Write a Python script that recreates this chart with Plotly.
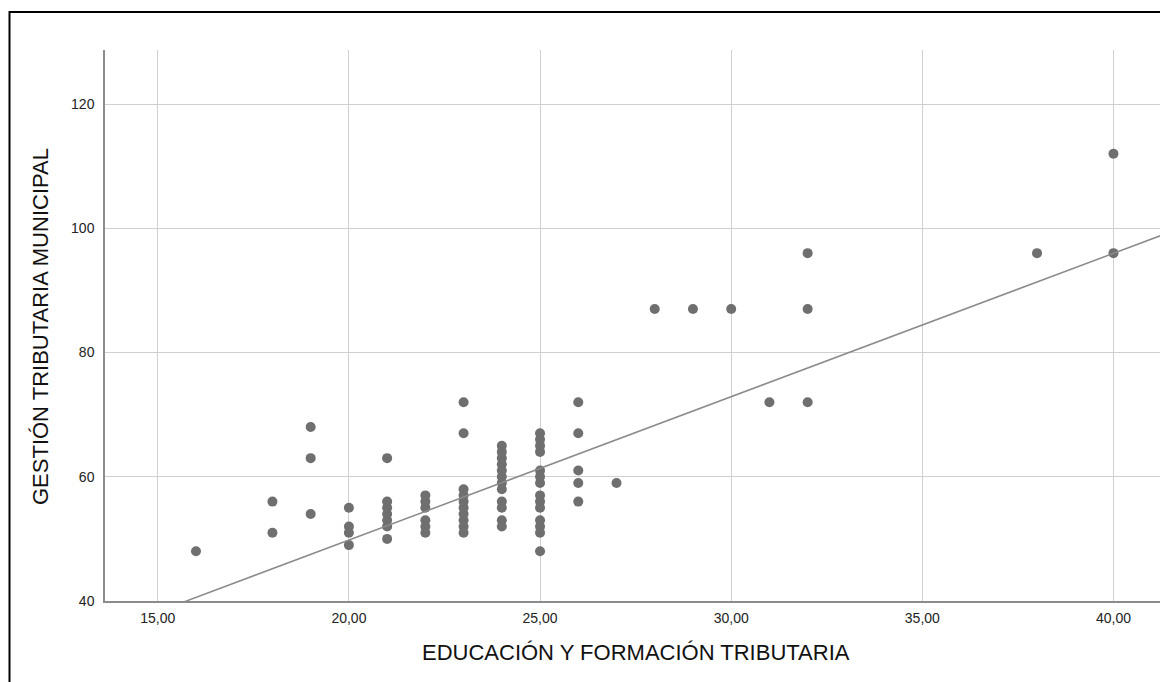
import plotly.graph_objects as go

# Data
educacion = (
    [16]
    + [18, 18]
    + [19, 19, 19]
    + [20, 20, 20, 20]
    + [21] * 7
    + [22] * 6
    + [23] * 10
    + [24] * 12
    + [25] * 14
    + [26] * 5
    + [27, 28, 29, 30, 31]
    + [32, 32, 32]
    + [38, 40, 40]
)
gestion = (
    [48]
    + [56, 51]
    + [68, 63, 54]
    + [55, 52, 51, 49]
    + [63, 56, 55, 54, 53, 52, 50]
    + [57, 56, 55, 53, 52, 51]
    + [72, 67, 58, 57, 56, 55, 54, 53, 52, 51]
    + [65, 64, 63, 62, 61, 60, 59, 58, 56, 55, 53, 52]
    + [67, 66, 65, 64, 61, 60, 59, 57, 56, 55, 53, 52, 51, 48]
    + [72, 67, 61, 59, 56]
    + [59, 87, 87, 87, 72]
    + [96, 87, 72]
    + [96, 112, 96]
)

# Fit line: y = intercept + slope * x
fit_intercept = 3.65
fit_slope = 2.308
fit_x = [13.62, 41.40]

x_ticks = [15, 20, 25, 30, 35, 40]
x_tick_labels = ["15,00", "20,00", "25,00", "30,00", "35,00", "40,00"]
y_ticks = [40, 60, 80, 100, 120]
y_tick_labels = ["40", "60", "80", "100", "120"]

fig = go.Figure()
fig.add_trace(go.Scatter(
    x=educacion, y=gestion, mode="markers",
    marker=dict(size=10, color="#6f6f6f"),
    showlegend=False, cliponaxis=False,
))
fig.add_trace(go.Scatter(
    x=fit_x, y=[fit_intercept + fit_slope * v for v in fit_x], mode="lines",
    line=dict(color="#8a8a8a", width=1.5),
    showlegend=False,
))

OFF = 8  # page body margin
W, H = 1168 - OFF, 682 - OFF
L, R, T, B = 105 - OFF, 1, 50 - OFF, 682 - 601
pw, ph = W - L - R, H - T - B

def px(x):
    return (x - OFF - L) / pw

def py(y):
    return (H - B - (y - OFF)) / ph

fig.update_layout(
    width=W, height=H,
    margin=dict(l=L, r=R, t=T, b=B),
    paper_bgcolor="white", plot_bgcolor="white",
    font=dict(family="Liberation Sans, Arial, sans-serif", color="#222222"),
    xaxis=dict(
        range=[13.62, 41.40], tickvals=x_ticks, ticktext=x_tick_labels,
        showgrid=True, gridcolor="#d0d0d0", gridwidth=1.2,
        showline=True, linecolor="#8c8c8c", linewidth=1.5,
        zeroline=False, ticks="", tickfont=dict(size=14),
        ticklabelstandoff=3,
    ),
    yaxis=dict(
        range=[40, 128.7], tickvals=y_ticks, ticktext=y_tick_labels,
        showgrid=True, gridcolor="#d0d0d0", gridwidth=1.2,
        showline=True, linecolor="#8c8c8c", linewidth=1.5,
        zeroline=False, ticks="", tickfont=dict(size=14),
        ticklabelstandoff=6,
    ),
    annotations=[
        dict(text="EDUCACIÓN Y FORMACIÓN TRIBUTARIA", xref="paper", yref="paper",
             x=px(636), y=py(652), showarrow=False, xanchor="center", yanchor="middle",
             font=dict(size=22, color="#111111")),
        dict(text="GESTIÓN TRIBUTARIA MUNICIPAL", xref="paper", yref="paper",
             x=px(40), y=py(327), showarrow=False, xanchor="center", yanchor="middle",
             textangle=-90, font=dict(size=22, color="#111111")),
    ],
    shapes=[
        dict(type="rect", xref="paper", yref="paper",
             x0=px(9.5), x1=px(1185), y0=py(700), y1=py(12),
             line=dict(color="black", width=2), fillcolor="rgba(0,0,0,0)", layer="above"),
    ],
)

fig.write_html("out.html")
